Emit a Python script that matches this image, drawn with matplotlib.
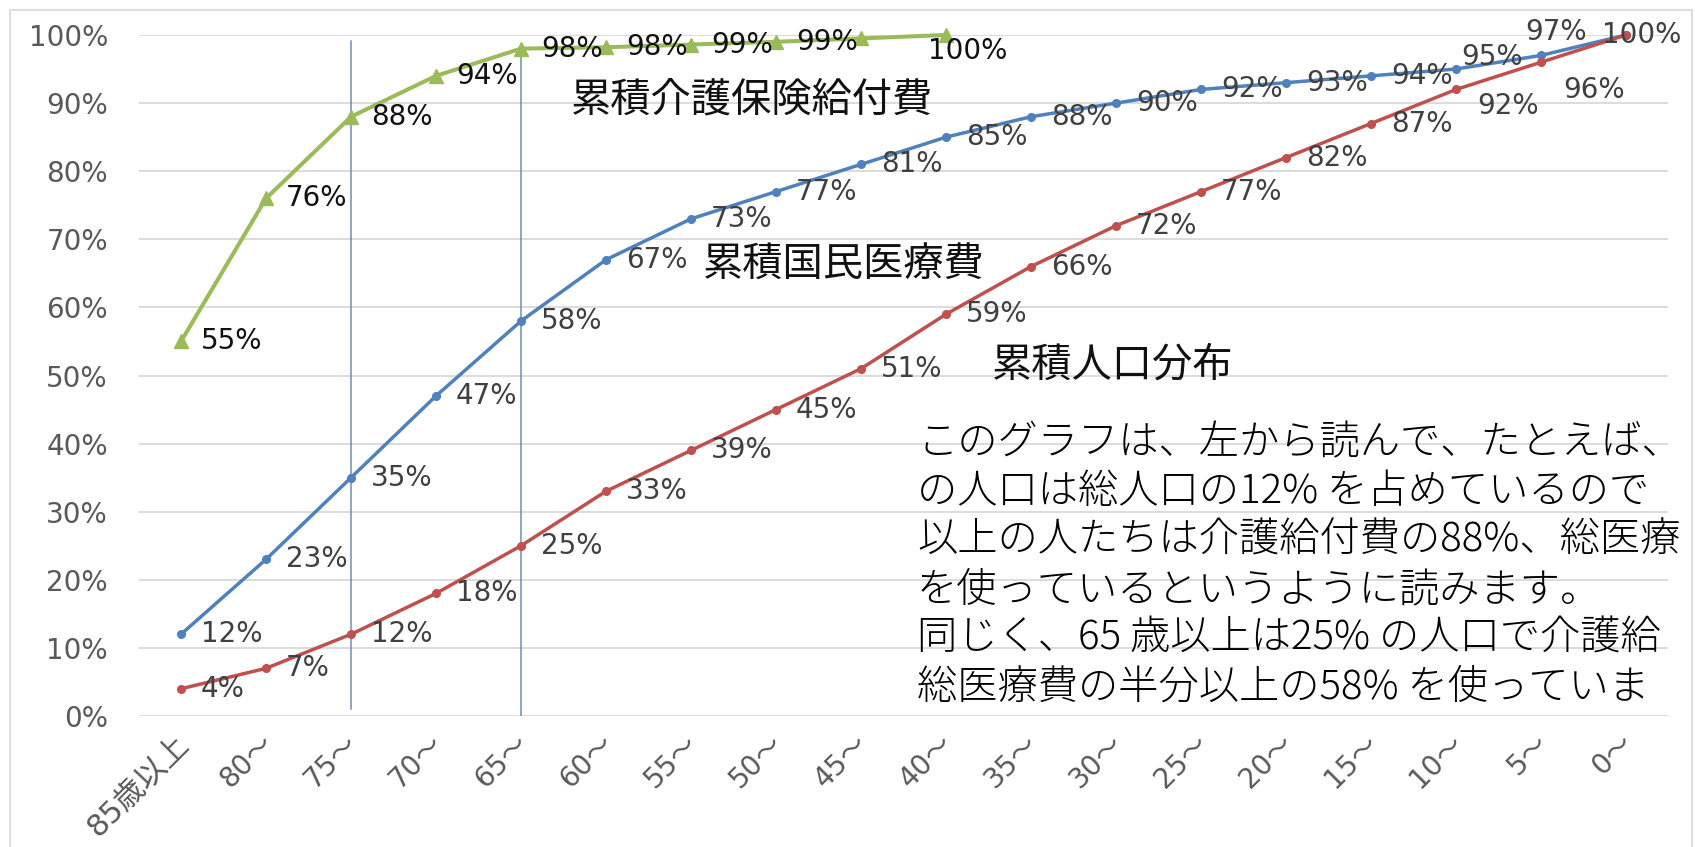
import matplotlib
matplotlib.use('Agg')
import matplotlib.pyplot as plt
import matplotlib.transforms as mtransforms
from matplotlib.patches import Rectangle

plt.rcParams['font.family'] = ['DejaVu Sans', 'Noto Sans CJK JP']

# age groups, oldest first
ages = ['85歳以上', '80～', '75～', '70～', '65～', '60～', '55～', '50～', '45～',
        '40～', '35～', '30～', '25～', '20～', '15～', '10～', '5～', '0～']

# cumulative shares (%)
kaigo = [55, 76, 88, 94, 98, 98.2, 98.6, 99, 99.5, 100]
kaigo_lbl = ['55%', '76%', '88%', '94%', '98%', '98%', '99%', '99%', '', '100%']

iryo = [12, 23, 35, 47, 58, 67, 73, 77, 81, 85, 88, 90, 92, 93, 94, 95, 97, 100]
iryo_lbl = ['12%', '23%', '35%', '47%', '58%', '67%', '73%', '77%', '81%', '85%',
            '88%', '90%', '92%', '93%', '94%', '95%', '97%', '100%']

jinko = [4, 7, 12, 18, 25, 33, 39, 45, 51, 59, 66, 72, 77, 82, 87, 92, 96, 100]
jinko_lbl = ['4%', '7%', '12%', '18%', '25%', '33%', '39%', '45%', '51%', '59%',
             '66%', '72%', '77%', '82%', '87%', '92%', '96%', '']

series_names = ['累積介護保険給付費', '累積国民医療費', '累積人口分布']
note = ['このグラフは、左から読んで、たとえば、',
        'の人口は総人口の12% を占めているので',
        '以上の人たちは介護給付費の88%、総医療',
        'を使っているというように読みます。',
        '同じく、65 歳以上は25% の人口で介護給',
        '総医療費の半分以上の58% を使っていま']

W, H = 1695, 847
fig = plt.figure(figsize=(W / 100, H / 100), dpi=100)
ax = fig.add_axes([138.5 / W, 1 - 716 / H, 1530 / W, 681 / H])

def fx(x):
    return x / W

def fy(y):
    return 1 - y / H

# chart border
fig.patches.append(Rectangle((fx(10), fy(860)), fx(1682), 850 / H,
                             transform=fig.transFigure, fill=False,
                             edgecolor='#d9d9d9', lw=1.2))

GREEN = '#9bbb59'
BLUE = '#4f81bd'
RED = '#c0504d'

x_all = list(range(len(ages)))
ax.plot(x_all[:len(kaigo)], kaigo, color=GREEN, lw=2.9, marker='^', ms=10,
        clip_on=False, zorder=4)
ax.plot(x_all, iryo, color=BLUE, lw=2.5, marker='o', ms=5.5, clip_on=False, zorder=4)
ax.plot(x_all, jinko, color=RED, lw=2.5, marker='o', ms=5.5, clip_on=False, zorder=4)

# vertical guide lines at 75 and 65
ax.plot([2, 2], [1.0, 99.1], color='#6f8fb5', lw=1.1, zorder=2)
ax.plot([4, 4], [0, 97.8], color='#6f8fb5', lw=1.1, zorder=2)

# data labels, default: right of the marker (offset in px)
def put_labels(vals, labels, color, special):
    for i, (v, t) in enumerate(zip(vals, labels)):
        if not t:
            continue
        dx, dy = special.get(i, (20, 0))
        ax.annotate(t, (i, v), xytext=(dx * 0.72, dy * 0.72),
                    textcoords='offset points', ha='left', va='center',
                    fontsize=20, color=color, zorder=6, annotation_clip=False)

put_labels(kaigo, kaigo_lbl, '#111111', {9: (-18, -16)})
put_labels(iryo, iryo_lbl, '#404040', {15: (5, 12), 16: (-16, 23), 17: (-24, 0)})
put_labels(jinko, jinko_lbl, '#404040', {15: (21, -17), 16: (22, -28)})

ax.set_xlim(-0.5, len(ages) - 0.5)
ax.set_ylim(0, 100)
ax.set_yticks(range(0, 101, 10))
ax.set_yticklabels([f'{v}%' for v in range(0, 101, 10)])
ax.set_xticks(x_all)
ax.set_xticklabels(ages, rotation=45, ha='right', rotation_mode='anchor')
ax.tick_params(axis='y', length=0, pad=22, labelsize=20, labelcolor='#595959')
ax.tick_params(axis='x', length=0, pad=9, labelsize=20, labelcolor='#595959')
shift = mtransforms.ScaledTranslation(-7 / 100, 0, fig.dpi_scale_trans)
for lab in ax.get_xticklabels():
    lab.set_transform(lab.get_transform() + shift)
ax.get_xticklabels()[0].set_fontsize(22)
ax.grid(axis='y', color='#d9d9d9', lw=1.3)
ax.set_axisbelow(True)
for s in ax.spines.values():
    s.set_visible(False)

# series names
fig.text(fx(571), fy(100), series_names[0], fontsize=29, color='#111111',
         va='center', family=['Noto Sans CJK JP'])
fig.text(fx(703), fy(265), series_names[1], fontsize=29, color='#111111',
         va='center', family=['Noto Sans CJK JP'])
fig.text(fx(992), fy(365), series_names[2], fontsize=29, color='#111111',
         va='center', family=['Noto Sans CJK JP'])

# explanation text, runs off the right edge like the original
for k, line in enumerate(note):
    fig.text(fx(917), fy(443 + 49 * k), line, fontsize=29, color='#000000',
             va='center', fontweight='light', family=['Noto Sans CJK JP'])

fig.savefig('out.png', dpi=100)
